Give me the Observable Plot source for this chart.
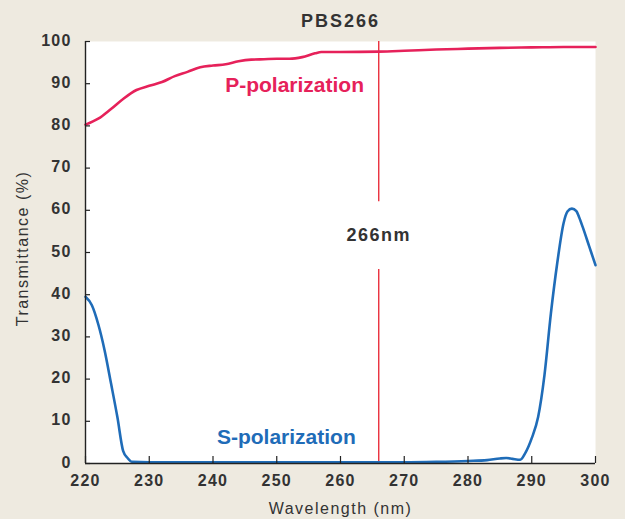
<!DOCTYPE html>
<html><head><meta charset="utf-8">
<script src="https://cdn.jsdelivr.net/npm/d3@7"></script>
<script src="https://cdn.jsdelivr.net/npm/@observablehq/plot@0.6"></script>
<style>
html,body{margin:0;padding:0;background:#eeeae0;}
#chart{width:625px;height:519px;}
g[aria-label="x-axis tick label"] text, g[aria-label="y-axis tick label"] text{letter-spacing:1.2px}
g[aria-description="title"] text{letter-spacing:2px}
g[aria-description="marker label"] text{letter-spacing:1.5px}
g[aria-description="axis label"] text{letter-spacing:1.5px}
</style></head><body><div id="chart"></div>
<script>
const title = "PBS266";
const xLabel = "Wavelength (nm)";
const yLabel = "Transmittance (%)";
const xTicks = [220, 230, 240, 250, 260, 270, 280, 290, 300];
const yTicks = [0, 10, 20, 30, 40, 50, 60, 70, 80, 90, 100];

// P-polarization transmittance
const pWave  = [220, 222, 224, 226, 228, 230, 232, 234, 236, 238, 240, 242, 244, 246, 248, 250, 252, 254, 256, 257, 260, 266, 270, 275, 280, 285, 290, 295, 300];
const pTrans = [80.3, 81.7, 84, 86.5, 88.5, 89.5, 90.4, 91.8, 92.8, 93.9, 94.3, 94.6, 95.3, 95.7, 95.8, 95.9, 95.9, 96.3, 97.2, 97.5, 97.5, 97.6, 97.8, 98.1, 98.3, 98.5, 98.6, 98.7, 98.7];

// S-polarization transmittance
const sWave  = [220, 221, 222, 223, 224, 225, 225.9, 226.6, 227.3, 230, 240, 250, 260, 270, 275, 280, 283, 285, 286, 287, 288.2, 289, 290, 291, 292, 293, 294, 295, 295.6, 296.3, 297, 297.4, 298, 299, 300];
const sTrans = [39.5, 37.5, 33, 26.8, 19, 11, 3, 1.3, 0.4, 0.3, 0.3, 0.3, 0.3, 0.3, 0.4, 0.6, 0.8, 1.2, 1.3, 1.1, 0.9, 2.5, 6, 11, 21, 35.5, 47.5, 57, 59.7, 60.4, 59.8, 58.5, 56, 51.5, 47];

// 266 nm marker
const markerWave = 266;
const markerLabel = "266nm";
const markerLabelT = 54;
const markerGap = [46, 62];

// series labels (anchor in data units)
const pName = "P-polarization", pNameAt = [252.8, 89.6];
const sName = "S-polarization", sNameAt = [251.5, 6.2];

const pData = pWave.map((w, i) => ({w, t: pTrans[i]}));
const sData = sWave.map((w, i) => ({w, t: sTrans[i]}));
const markerSegs = [[0, markerGap[0]], [markerGap[1], 100]];

const ink = "#333333", axisInk = "#222222";
const pColor = "#e6215a", sColor = "#1f6cb8", markerColor = "#e8202e";

const chart = Plot.plot({
  width: 625, height: 519,
  marginLeft: 85, marginRight: 30, marginTop: 41, marginBottom: 56,
  x: {domain: [220, 300]},
  y: {domain: [0, 100]},
  style: {background: "transparent", fontFamily: "'Liberation Sans', Arial, sans-serif", color: ink},
  marks: [
    Plot.frame({fill: "white", stroke: null}),
    Plot.ruleX(markerSegs, {x: () => markerWave, y1: d => d[0], y2: d => d[1], stroke: markerColor, strokeWidth: 1.3}),
    Plot.line(pData, {x: "w", y: "t", stroke: pColor, strokeWidth: 2.6, curve: "monotone-x"}),
    Plot.line(sData, {x: "w", y: "t", stroke: sColor, strokeWidth: 2.6, curve: "monotone-x"}),
    Plot.ruleX([220], {stroke: axisInk, strokeWidth: 1.4}),
    Plot.ruleY([0], {stroke: axisInk, strokeWidth: 1.4}),
    Plot.tickY(yTicks, {y: d => d, insetRight: 505, stroke: axisInk, strokeWidth: 1.2}),
    Plot.tickX(xTicks, {x: d => d, insetTop: 415, stroke: axisInk, strokeWidth: 1.2}),
    Plot.axisY(yTicks, {tickSize: 0, tickPadding: 14, fontSize: 16, fontWeight: "bold", fill: ink, dy: -1, label: null}),
    Plot.axisX(xTicks, {tickSize: 0, tickPadding: 11, fontSize: 16, fontWeight: "bold", fill: ink, label: null}),
    Plot.text([title], {frameAnchor: "top", lineAnchor: "middle", dy: -20, fontSize: 18, fontWeight: "bold", fill: ink, ariaDescription: "title"}),
    Plot.text([yLabel], {frameAnchor: "left", textAnchor: "middle", lineAnchor: "middle", rotate: -90, dx: -63, dy: -4, fontSize: 16, fill: ink, ariaDescription: "axis label"}),
    Plot.text([xLabel], {frameAnchor: "bottom", lineAnchor: "middle", dy: 45, fontSize: 16, fill: ink, ariaDescription: "axis label"}),
    Plot.text([markerLabel], {x: () => markerWave, y: () => markerLabelT, fontSize: 18, fontWeight: "bold", fill: ink, ariaDescription: "marker label"}),
    Plot.text([pName], {x: () => pNameAt[0], y: () => pNameAt[1], fontSize: 21, fontWeight: "bold", fill: pColor}),
    Plot.text([sName], {x: () => sNameAt[0], y: () => sNameAt[1], fontSize: 21, fontWeight: "bold", fill: sColor})
  ]
});
document.getElementById("chart").appendChild(chart);
</script></body></html>
